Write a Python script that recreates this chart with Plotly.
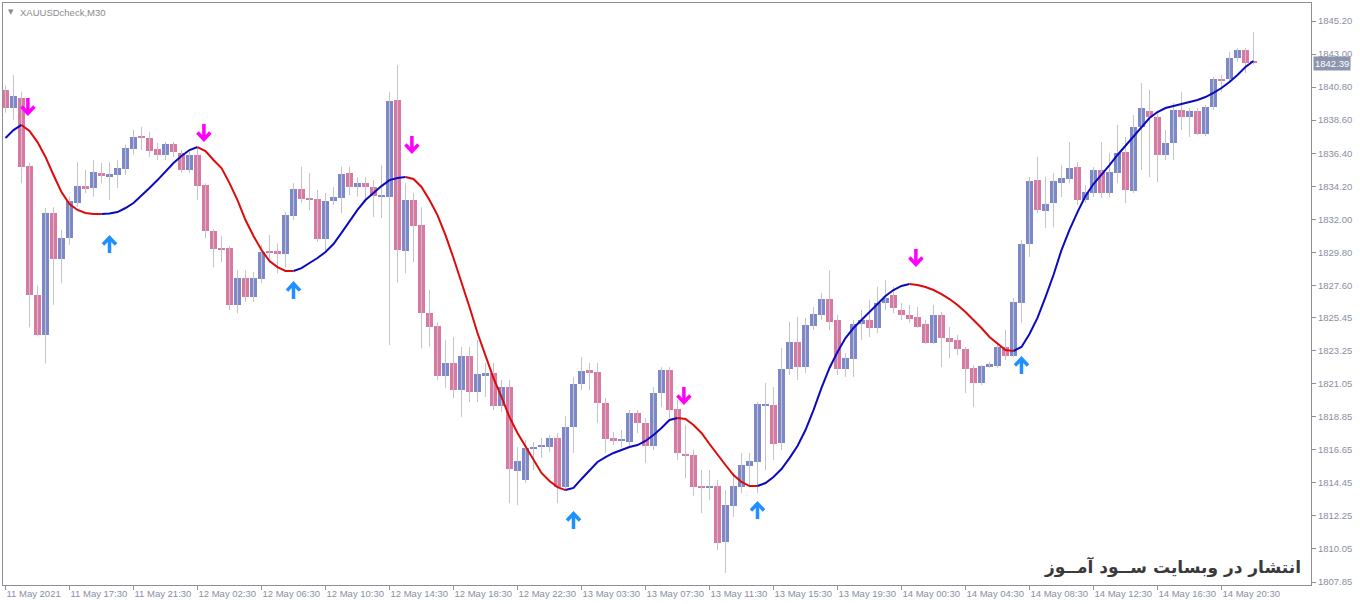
import plotly.graph_objects as go

# ---- XAUUSD M30 candles (bar index 0..156) ----
time_labels = ["11 May 2021", "11 May 17:30", "11 May 21:30", "12 May 02:30", "12 May 06:30",
               "12 May 10:30", "12 May 14:30", "12 May 18:30", "12 May 22:30", "13 May 03:30",
               "13 May 07:30", "13 May 11:30", "13 May 15:30", "13 May 19:30", "14 May 00:30",
               "14 May 04:30", "14 May 08:30", "14 May 12:30", "14 May 16:30", "14 May 20:30"]
label_step = 8

opens = [
    1840.60, 1839.40, 1840.07, 1835.55, 1826.96, 1824.30, 1832.40, 1829.35, 1830.75, 1833.10,
    1834.20, 1834.08, 1835.08, 1834.88, 1834.95, 1835.35, 1836.70, 1837.55, 1837.40, 1836.70,
    1836.30, 1837.00, 1836.40, 1835.30, 1836.30, 1834.30, 1831.20, 1830.09, 1830.09, 1826.30,
    1828.10, 1826.80, 1828.00, 1829.85, 1829.90, 1829.70, 1832.20, 1834.00, 1833.38, 1833.35,
    1830.70, 1833.20, 1833.40, 1835.08, 1834.15, 1834.40, 1834.15, 1833.50, 1833.50, 1839.94,
    1829.90, 1833.30, 1831.60, 1825.75, 1824.90, 1821.56, 1822.43, 1820.63, 1822.90, 1820.50,
    1821.63, 1821.76, 1819.57, 1820.83, 1815.24, 1814.64, 1816.70, 1816.84, 1816.84, 1817.44,
    1814.17, 1818.17, 1821.03, 1821.96, 1821.83, 1819.77, 1817.44, 1817.30, 1817.17, 1819.10,
    1818.44, 1816.90, 1820.43, 1821.96, 1819.37, 1816.37, 1816.30, 1814.24, 1814.10, 1814.24,
    1810.50, 1812.90, 1814.17, 1815.57, 1815.84, 1819.57, 1819.63, 1817.10, 1822.03, 1823.83,
    1822.16, 1824.90, 1825.63, 1826.70, 1825.30, 1822.03, 1822.70, 1825.03, 1825.30, 1824.76,
    1826.43, 1826.96, 1825.96, 1825.63, 1825.50, 1825.03, 1823.76, 1825.63, 1824.10, 1823.96,
    1823.36, 1822.10, 1821.10, 1822.23, 1822.23, 1823.50, 1822.90, 1826.43, 1830.36, 1834.61,
    1832.55, 1833.08, 1834.41, 1834.68, 1835.48, 1833.28, 1833.75, 1835.28, 1833.75, 1835.08,
    1836.48, 1833.88, 1838.14, 1839.21, 1838.81, 1836.28, 1837.08, 1839.27, 1838.81, 1839.21,
    1837.68, 1839.47, 1841.34, 1841.34, 1842.74, 1843.27, 1842.54]

highs = [
    1840.90, 1841.60, 1840.50, 1835.75, 1827.60, 1832.75, 1832.80, 1831.30, 1833.50, 1835.80,
    1835.30, 1835.95, 1835.75, 1835.80, 1835.95, 1836.95, 1837.95, 1838.15, 1837.80, 1837.10,
    1837.15, 1837.15, 1836.60, 1836.50, 1836.75, 1834.40, 1831.35, 1830.90, 1830.20, 1828.60,
    1828.60, 1828.50, 1830.30, 1830.95, 1830.40, 1832.50, 1834.40, 1835.50, 1835.08, 1833.95,
    1833.75, 1834.15, 1835.50, 1835.50, 1834.80, 1834.80, 1834.60, 1835.60, 1840.47, 1842.27,
    1834.40, 1833.75, 1832.80, 1827.30, 1825.15, 1823.95, 1824.16, 1823.50, 1823.50, 1823.96,
    1822.43, 1822.43, 1821.30, 1821.30, 1816.84, 1817.30, 1817.17, 1817.44, 1817.64, 1817.77,
    1818.90, 1821.50, 1822.83, 1822.43, 1822.43, 1820.10, 1817.84, 1817.97, 1819.30, 1819.30,
    1818.77, 1820.83, 1822.16, 1822.16, 1819.97, 1818.30, 1816.64, 1815.30, 1815.30, 1814.64,
    1813.97, 1815.10, 1816.44, 1816.44, 1819.83, 1821.10, 1820.83, 1823.43, 1825.16, 1825.50,
    1825.43, 1826.16, 1827.10, 1828.60, 1825.63, 1823.10, 1825.30, 1825.96, 1826.63, 1827.50,
    1827.96, 1827.50, 1826.43, 1826.30, 1826.16, 1825.30, 1826.30, 1825.83, 1824.83, 1824.30,
    1823.50, 1822.30, 1822.30, 1822.50, 1823.83, 1824.63, 1826.76, 1830.62, 1834.81, 1836.15,
    1834.81, 1835.08, 1835.61, 1837.14, 1835.81, 1834.28, 1835.48, 1837.14, 1836.41, 1838.28,
    1837.48, 1838.94, 1841.07, 1840.61, 1839.14, 1837.94, 1839.74, 1840.47, 1839.41, 1839.41,
    1839.61, 1841.47, 1841.60, 1843.14, 1843.40, 1843.40, 1844.47]

lows = [
    1839.10, 1838.60, 1834.40, 1824.80, 1824.20, 1822.40, 1826.30, 1827.75, 1830.30, 1832.80,
    1833.75, 1833.50, 1834.40, 1833.30, 1834.08, 1834.95, 1836.30, 1836.60, 1836.15, 1835.95,
    1835.95, 1836.15, 1835.10, 1835.10, 1833.30, 1830.75, 1828.80, 1829.15, 1825.95, 1825.75,
    1826.50, 1826.50, 1827.75, 1829.10, 1828.40, 1828.80, 1831.95, 1833.10, 1832.60, 1830.50,
    1829.95, 1832.95, 1832.40, 1833.60, 1833.50, 1833.30, 1832.15, 1832.08, 1823.63, 1827.80,
    1828.40, 1829.15, 1823.40, 1823.50, 1821.30, 1820.77, 1820.10, 1818.84, 1819.83, 1819.83,
    1820.17, 1819.30, 1819.17, 1813.10, 1812.97, 1814.44, 1815.30, 1816.10, 1816.50, 1813.10,
    1813.97, 1816.44, 1820.63, 1820.63, 1818.44, 1816.44, 1816.97, 1816.84, 1816.84, 1817.77,
    1815.77, 1816.64, 1819.50, 1818.77, 1815.97, 1814.77, 1813.57, 1812.44, 1813.30, 1809.98,
    1808.45, 1812.18, 1813.77, 1814.17, 1813.77, 1815.30, 1815.97, 1816.64, 1821.63, 1821.30,
    1821.76, 1824.63, 1825.30, 1824.63, 1821.63, 1821.50, 1821.50, 1823.96, 1824.16, 1824.43,
    1825.96, 1825.76, 1825.30, 1825.10, 1824.76, 1823.70, 1823.70, 1822.16, 1822.76, 1822.96,
    1820.43, 1819.50, 1820.96, 1822.10, 1822.10, 1822.63, 1822.83, 1825.10, 1829.49, 1832.42,
    1831.42, 1831.48, 1833.48, 1834.41, 1832.95, 1833.08, 1833.48, 1833.42, 1833.48, 1834.41,
    1833.08, 1833.75, 1835.28, 1834.81, 1834.48, 1835.95, 1835.95, 1837.94, 1837.48, 1837.61,
    1837.54, 1839.27, 1840.47, 1841.07, 1842.47, 1841.74, 1842.30]

closes = [
    1839.40, 1840.20, 1835.50, 1826.96, 1824.30, 1832.40, 1829.35, 1830.75, 1833.20, 1834.20,
    1834.08, 1835.15, 1834.88, 1835.00, 1835.40, 1836.75, 1837.50, 1837.40, 1836.55, 1836.30,
    1837.00, 1836.50, 1835.30, 1836.30, 1834.20, 1831.20, 1830.00, 1830.02, 1826.30, 1828.10,
    1826.80, 1828.10, 1829.80, 1829.78, 1829.70, 1832.30, 1834.00, 1833.35, 1833.33, 1830.70,
    1833.20, 1833.50, 1835.00, 1834.15, 1834.40, 1834.15, 1833.55, 1833.60, 1839.87, 1829.95,
    1833.30, 1831.55, 1825.75, 1824.83, 1821.56, 1822.43, 1820.63, 1822.90, 1820.50, 1821.70,
    1821.76, 1819.57, 1820.83, 1815.37, 1815.90, 1816.77, 1816.84, 1816.90, 1817.44, 1814.17,
    1818.17, 1821.03, 1821.90, 1821.83, 1819.77, 1817.37, 1817.24, 1817.37, 1819.10, 1818.44,
    1816.90, 1820.43, 1821.96, 1819.30, 1816.44, 1816.30, 1814.17, 1814.14, 1814.24, 1810.45,
    1812.97, 1814.24, 1815.64, 1815.90, 1819.70, 1819.70, 1817.04, 1822.03, 1823.83, 1822.16,
    1824.96, 1825.70, 1826.70, 1825.16, 1822.03, 1822.76, 1825.03, 1825.30, 1824.76, 1826.43,
    1826.76, 1826.10, 1825.63, 1825.36, 1824.83, 1823.76, 1825.63, 1824.10, 1823.83, 1823.36,
    1822.03, 1821.10, 1822.23, 1822.36, 1823.50, 1822.90, 1826.50, 1830.36, 1834.55, 1832.62,
    1833.02, 1834.55, 1834.75, 1835.41, 1833.28, 1833.82, 1835.28, 1833.75, 1835.15, 1836.41,
    1833.95, 1838.14, 1839.41, 1838.81, 1836.28, 1837.08, 1839.27, 1838.81, 1839.21, 1837.68,
    1839.47, 1841.34, 1841.27, 1842.74, 1843.27, 1842.40, 1842.39]

# smoothed trend line, one value per bar
trend = [
    1837.41, 1837.94, 1838.28, 1837.88, 1837.14, 1836.15, 1834.95, 1833.81, 1833.02, 1832.62,
    1832.42, 1832.35, 1832.35, 1832.38, 1832.48, 1832.75, 1833.08, 1833.55, 1834.08, 1834.61,
    1835.21, 1835.75, 1836.21, 1836.61, 1836.81, 1836.54, 1835.95, 1835.41, 1834.41, 1833.28,
    1831.95, 1830.89, 1829.95, 1829.22, 1828.82, 1828.56, 1828.56, 1828.75, 1829.09, 1829.42,
    1829.82, 1830.35, 1831.09, 1831.88, 1832.62, 1833.28, 1833.75, 1834.21, 1834.61, 1834.75,
    1834.81, 1834.68, 1834.15, 1833.28, 1832.28, 1830.95, 1829.42, 1827.82, 1826.16, 1824.43,
    1822.90, 1821.43, 1820.17, 1818.83, 1817.77, 1816.90, 1815.97, 1815.11, 1814.57, 1814.17,
    1813.97, 1814.11, 1814.71, 1815.31, 1815.84, 1816.17, 1816.44, 1816.64, 1816.84, 1816.97,
    1817.24, 1817.64, 1818.10, 1818.64, 1818.77, 1818.70, 1818.30, 1817.77, 1817.04, 1816.30,
    1815.64, 1814.97, 1814.51, 1814.24, 1814.24, 1814.44, 1814.84, 1815.37, 1816.10, 1816.90,
    1817.97, 1819.30, 1820.77, 1822.10, 1823.16, 1824.09, 1824.76, 1825.29, 1825.76, 1826.29,
    1826.89, 1827.29, 1827.56, 1827.69, 1827.62, 1827.49, 1827.29, 1827.02, 1826.69, 1826.29,
    1825.83, 1825.29, 1824.76, 1824.16, 1823.70, 1823.30, 1823.23, 1823.50, 1824.36, 1825.43,
    1826.82, 1828.29, 1829.95, 1831.29, 1832.48, 1833.55, 1834.35, 1834.95, 1835.61, 1836.28,
    1836.88, 1837.48, 1838.08, 1838.74, 1839.14, 1839.41, 1839.54, 1839.67, 1839.81, 1839.94,
    1840.14, 1840.41, 1840.74, 1841.14, 1841.61, 1842.14, 1842.54]

# turning-point signals
sell_bars = [3, 25, 51, 85, 114]
sell_prices = [1839.54, 1837.81, 1837.01, 1820.30, 1829.49]
buy_bars = [13, 36, 71, 94, 127]
buy_prices = [1830.29, 1827.22, 1811.91, 1812.58, 1822.23]

price_labels = ["1845.20", "1843.00", "1840.80", "1838.60", "1836.40", "1834.20", "1832.00",
                "1829.80", "1827.60", "1825.45", "1823.25", "1821.05", "1818.85", "1816.65",
                "1814.45", "1812.25", "1810.05", "1807.85"]
last_price = 1842.39

# ---- colours ----
BULL = "#7D88CB"
BEAR = "#DA77A2"
WICK = "#C4C4C8"
UP_LINE = "#0A0AC0"
DOWN_LINE = "#DD0A0A"
AXIS = "#8E8E96"
TICK_TXT = "#8A8FA2"

n = len(closes)
idx = list(range(n))

fig = go.Figure()

# wicks
wx, wy = [], []
for i in idx:
    wx += [i, i, None]
    wy += [lows[i], highs[i], None]
fig.add_trace(go.Scatter(x=wx, y=wy, mode="lines", line=dict(color=WICK, width=1),
                         hoverinfo="skip"))

# bodies
body_base = [min(o, c) for o, c in zip(opens, closes)]
body_len = [max(abs(c - o), 0.07) for o, c in zip(opens, closes)]
body_col = [BULL if c > o else BEAR for o, c in zip(opens, closes)]
fig.add_trace(go.Bar(x=idx, y=body_len, base=body_base, width=0.8,
                     marker=dict(color=body_col, line=dict(width=0)), hoverinfo="skip"))

# trend line, coloured by slope
runs = []
for i in range(1, n):
    col = UP_LINE if trend[i] > trend[i - 1] else DOWN_LINE
    if runs and runs[-1][0] == col:
        runs[-1][1].append(i)
    else:
        runs.append([col, [i - 1, i]])
for col, pts in runs:
    fig.add_trace(go.Scatter(x=pts, y=[trend[p] for p in pts], mode="lines",
                             line=dict(color=col, width=2), hoverinfo="skip"))

# signal arrows (pixel-sized glyphs anchored at bar/price)
shapes = []
down_path = "M 0 8 L 0 -7 M -6.5 -0.5 L 0 -7.5 L 6.5 -0.5"
up_path = "M 0 -8 L 0 7 M -6.5 0.5 L 0 7.5 L 6.5 0.5"
for b, p in zip(sell_bars, sell_prices):
    shapes.append(dict(type="path", xref="x", yref="y", xsizemode="pixel", ysizemode="pixel",
                       xanchor=b - 0.2, yanchor=p, path=down_path,
                       line=dict(color="#FF00FF", width=3.5)))
for b, p in zip(buy_bars, buy_prices):
    shapes.append(dict(type="path", xref="x", yref="y", xsizemode="pixel", ysizemode="pixel",
                       xanchor=b, yanchor=p, path=up_path,
                       line=dict(color="#1E90FF", width=3.5)))

annotations = [
    dict(xref="paper", yref="paper", x=0, y=1, xanchor="left", yanchor="top", xshift=3, yshift=-3,
         text="▼", showarrow=False, font=dict(family="DejaVu Sans", size=7, color="#8A8A8A")),
    dict(xref="paper", yref="paper", x=0, y=1, xanchor="left", yanchor="top", xshift=15, yshift=-2,
         text="XAUUSDcheck,M30", showarrow=False,
         font=dict(family="Liberation Sans", size=9.5, color="#8A8A8A")),
    dict(xref="paper", yref="y", x=1, y=last_price, xanchor="left", yanchor="middle", xshift=2,
         text=f"{last_price:.2f}", showarrow=False, bgcolor="#8D94AE", borderpad=1,
         font=dict(family="Liberation Sans", size=9.5, color="white")),
    dict(xref="paper", yref="paper", x=1, y=0, xanchor="right", yanchor="middle", xshift=-8,
         yshift=18, text="انتشار در وبسایت ســود آمــوز", showarrow=False,
         font=dict(family="DejaVu Sans", size=17, color="#3A3A3A", weight="bold")),
]

fig.update_layout(
    width=1360, height=604,
    margin=dict(l=3, r=49, t=3, b=19, autoexpand=False),
    paper_bgcolor="white", plot_bgcolor="white",
    showlegend=False, bargap=0,
    shapes=shapes, annotations=annotations,
    xaxis=dict(range=[-0.3125, 163.19], tickvals=[i * label_step for i in range(len(time_labels))],
               ticktext=time_labels, ticks="outside", ticklen=4, tickcolor=AXIS,
               ticklabelposition="outside right", tickangle=0, automargin=False,
               showline=True, linecolor=AXIS, linewidth=1, mirror=True,
               showgrid=False, zeroline=False, fixedrange=True,
               tickfont=dict(family="Liberation Sans", size=9.5, color=TICK_TXT)),
    yaxis=dict(side="right", range=[1807.65, 1846.40], automargin=False,
               tickvals=[float(t) for t in price_labels], ticktext=price_labels,
               ticks="outside", ticklen=4, tickcolor=AXIS,
               showline=True, linecolor=AXIS, linewidth=1, mirror=True,
               showgrid=False, zeroline=False, fixedrange=True,
               tickfont=dict(family="Liberation Sans", size=9.5, color=TICK_TXT)),
)

fig.write_html("out.html", config={"displayModeBar": False})
